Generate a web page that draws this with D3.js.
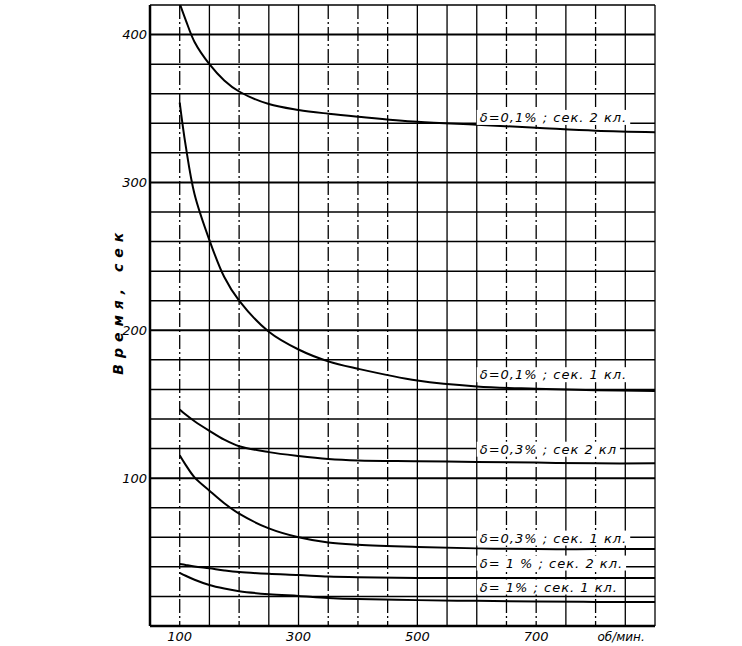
<!DOCTYPE html>
<html>
<head>
<meta charset="utf-8">
<script src="https://cdn.jsdelivr.net/npm/d3@7"></script>
<style>
  body { margin: 0; background: #fff; }
  text { font-family: "DejaVu Sans", sans-serif; font-style: italic; fill: #000; }
</style>
</head>
<body>
<div id="container"></div>
<script>
// data
var rpm = [100, 110, 125, 150, 175, 200, 250, 300, 350, 400, 500, 600, 700, 800, 900];
var d01_k2 = [421, 410, 395, 380, 369, 361.5, 353, 349, 346.5, 344.5, 341, 339, 337, 335, 334];
var d01_k1 = [354, 325, 292, 261, 236, 220, 199, 187, 179, 174, 166, 162, 160.5, 159.5, 159];
var d03_k2 = [146.5, 143, 138.5, 132, 126, 121.6, 117.6, 115, 113, 112, 111.5, 111, 110.5, 110, 110];
var d03_k1 = [115.5, 109, 100.5, 91.5, 83, 76, 66, 60, 56.5, 55, 53.5, 52.5, 52, 52, 52];
var d1_k2 = [42, 41.3, 40.3, 39, 37.6, 36.5, 35.3, 34.5, 33.5, 33, 32.5, 32.4, 32.4, 32.4, 32.4];
var d1_k1 = [36, 34, 31.3, 27.7, 25.3, 23.5, 21.5, 20.3, 19, 18.2, 17.5, 17, 16.5, 16.3, 16.2];

var xTicks = [100, 300, 500, 700];
var yTicks = [100, 200, 300, 400];
var labelText = ["δ=0,1% ; сек. 2 кл.", "δ=0,1% ; сек. 1 кл.", "δ=0,3% ; сек 2 кл",
                 "δ=0,3% ; сек. 1 кл.", "δ= 1 % ; сек. 2 кл.", "δ= 1% ; сек. 1 кл."];
var labelValue = [344, 170, 119.6, 59.5, 42.6, 26.4];

var margin = {top: 5, right: 87, bottom: 20, left: 150};
var width = 742 - margin.left - margin.right;
var height = 646 - margin.top - margin.bottom;

var svg = d3.select("#container")
  .append("svg")
    .attr("width", 742)
    .attr("height", 646)
  .append("g")
    .attr("transform", "translate(" + margin.left + "," + margin.top + ")");

var x = d3.scaleLinear().domain([50, 900]).range([0, width]);
var y = d3.scaleLinear().domain([0, 420]).range([height, 0]);

// grid
var dashed = [100, 200, 350, 400, 450, 650, 700, 800];
svg.append("g")
  .selectAll("line")
  .data(d3.range(100, 901, 50))
  .enter().append("line")
    .attr("x1", function (d) { return x(d); })
    .attr("x2", function (d) { return x(d); })
    .attr("y1", 0).attr("y2", height)
    .attr("stroke", "#000")
    .attr("stroke-width", 1.3)
    .attr("stroke-dasharray", function (d) { return dashed.indexOf(d) >= 0 ? "14,3,2,3" : null; });

svg.append("g")
  .selectAll("line")
  .data(d3.range(20, 421, 20))
  .enter().append("line")
    .attr("x1", 0).attr("x2", width)
    .attr("y1", function (d) { return y(d); })
    .attr("y2", function (d) { return y(d); })
    .attr("stroke", "#000")
    .attr("stroke-width", function (d) { return d % 100 == 0 ? 2 : 1.5; });

// axes frame
svg.append("line").attr("x1", 0).attr("x2", 0).attr("y1", 0).attr("y2", height)
  .attr("stroke", "#000").attr("stroke-width", 2.5);
svg.append("line").attr("x1", 0).attr("x2", width).attr("y1", height).attr("y2", height)
  .attr("stroke", "#000").attr("stroke-width", 2.5);

// tick labels
svg.append("g")
  .selectAll("text")
  .data(yTicks)
  .enter().append("text")
    .attr("x", -3)
    .attr("y", function (d) { return y(d); })
    .attr("dy", "0.35em")
    .attr("text-anchor", "end")
    .style("font-size", "13px")
    .text(function (d) { return d; });

svg.append("g")
  .selectAll("text")
  .data(xTicks)
  .enter().append("text")
    .attr("x", function (d) { return x(d); })
    .attr("y", height + 15)
    .attr("text-anchor", "middle")
    .style("font-size", "13px")
    .text(function (d) { return d; });

svg.append("text")
  .attr("x", x(843))
  .attr("y", height + 15)
  .attr("text-anchor", "middle")
  .style("font-size", "12px")
  .text("об/мин.");

svg.append("text")
  .attr("transform", "translate(-27," + y(220) + ") rotate(-90)")
  .attr("text-anchor", "middle")
  .style("font-size", "14px")
  .style("font-weight", "bold")
  .style("letter-spacing", "6px")
  .text("Время, сек");

// curves
svg.append("clipPath").attr("id", "clip")
  .append("rect").attr("width", width).attr("height", height);

var line = d3.line()
  .x(function (d) { return x(d[0]); })
  .y(function (d) { return y(d[1]); })
  .curve(d3.curveCatmullRom.alpha(0.5));

[d01_k2, d01_k1, d03_k2, d03_k1, d1_k2, d1_k1].forEach(function (s) {
  svg.append("path")
    .datum(d3.zip(rpm, s))
    .attr("clip-path", "url(#clip)")
    .attr("fill", "none")
    .attr("stroke", "#000")
    .attr("stroke-width", 2)
    .attr("d", line);
});

// labels with white boxes
labelText.forEach(function (txt, i) {
  var t = svg.append("text")
    .attr("x", x(605))
    .attr("y", y(labelValue[i]))
    .attr("dy", "0.35em")
    .style("font-size", "13px")
    .style("letter-spacing", "1px")
    .text(txt);
  var b = t.node().getBBox();
  svg.insert("rect", function () { return t.node(); })
    .attr("x", b.x - 3).attr("y", b.y)
    .attr("width", b.width + 6).attr("height", b.height)
    .attr("fill", "#fff");
});
</script>
</body>
</html>
